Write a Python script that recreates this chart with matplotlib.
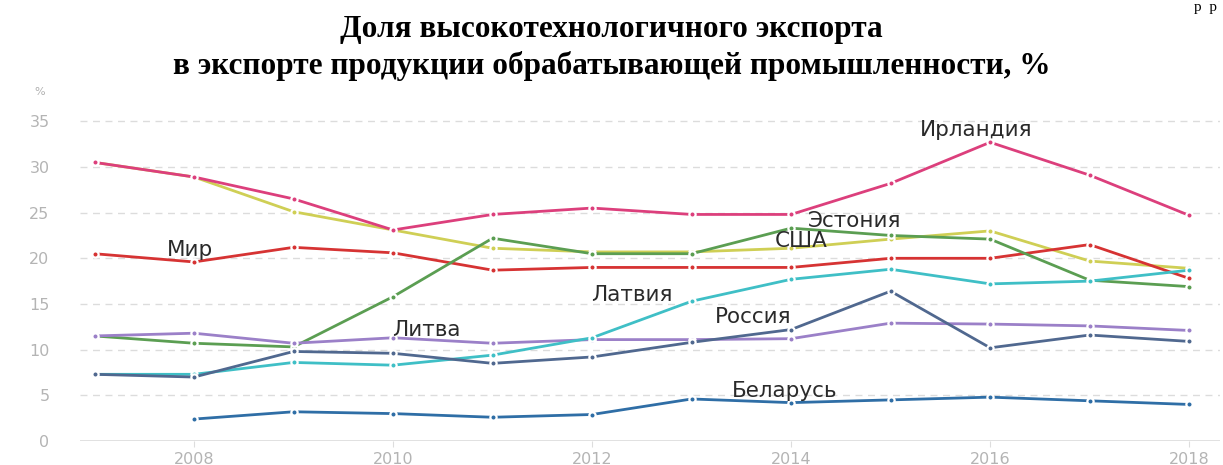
import matplotlib.pyplot as plt

# годы
years = list(range(2007, 2019))

# доля высокотехнологичного экспорта, %
ireland   = [30.5, 28.9, 26.5, 23.1, 24.8, 25.5, 24.8, 24.8, 28.2, 32.7, 29.1, 24.7]
usa       = [30.5, 28.9, 25.1, 23.1, 21.1, 20.7, 20.7, 21.1, 22.1, 23.0, 19.7, 18.9]
world     = [20.5, 19.6, 21.2, 20.6, 18.7, 19.0, 19.0, 19.0, 20.0, 20.0, 21.5, 17.8]
estonia   = [11.5, 10.7, 10.3, 15.8, 22.2, 20.5, 20.5, 23.3, 22.5, 22.1, 17.6, 16.9]
latvia    = [7.3, 7.3, 8.6, 8.3, 9.4, 11.3, 15.3, 17.7, 18.8, 17.2, 17.5, 18.7]
russia    = [7.3, 7.0, 9.8, 9.6, 8.5, 9.2, 10.8, 12.2, 16.4, 10.2, 11.6, 10.9]
lithuania = [11.5, 11.8, 10.7, 11.3, 10.7, 11.1, 11.1, 11.2, 12.9, 12.8, 12.6, 12.1]
belarus_years = list(range(2008, 2019))
belarus   = [2.4, 3.2, 3.0, 2.6, 2.9, 4.6, 4.2, 4.5, 4.8, 4.4, 4.0]

yticks = [0, 5, 10, 15, 20, 25, 30, 35]
xticks = [2008, 2010, 2012, 2014, 2016, 2018]

# подписи рядов и где они стоят (год, %)
labels = ['Ирландия', 'Эстония', 'США', 'Мир', 'Латвия', 'Россия', 'Литва', 'Беларусь']
label_x = [2015.86, 2014.64, 2014.10, 2007.96, 2012.40, 2013.62, 2010.33, 2013.93]
label_y = [34.0, 24.1, 21.9, 20.9, 16.0, 13.6, 12.1, 5.5]


def main():
    fig = plt.figure(figsize=(12.23, 4.65), dpi=100)
    ax = fig.add_axes([80 / 1223, 24 / 465, 1140 / 1223, 338 / 465])

    series = [
        (usa, years, '#cfcf55'),
        (ireland, years, '#dc3f7c'),
        (world, years, '#d63333'),
        (estonia, years, '#5b9e52'),
        (lithuania, years, '#9b80c8'),
        (latvia, years, '#3fbfc6'),
        (russia, years, '#50688f'),
        (belarus, belarus_years, '#2f6ea6'),
    ]
    for vals, xs, col in series:
        ax.plot(xs, vals, color=col, lw=2.0, marker='o', ms=4.5,
                markerfacecolor=col, markeredgecolor='white', markeredgewidth=1.6)

    ax.set_xlim(2006.854, 2018.31)
    ax.set_ylim(0, 37)

    # сетка
    for y in yticks[1:]:
        ax.axhline(y, color='#dcdcdc', lw=1, ls=(0, (5, 4)), zorder=0)
    ax.axhline(0, color='#dcdcdc', lw=1.2, zorder=0)

    for s in ax.spines.values():
        s.set_visible(False)
    ax.set_yticks(yticks)
    ax.set_xticks(xticks)
    ax.tick_params(axis='y', length=0, pad=22, labelsize=11.5, labelcolor='#b4b4b4')
    ax.tick_params(axis='x', length=4, width=0.8, color='#dddddd', pad=4,
                   labelsize=11.5, labelcolor='#b4b4b4')

    for t, lx, ly in zip(labels, label_x, label_y):
        ax.text(lx, ly, t, fontsize=15.5, color='#2a2a2a', family='DejaVu Sans',
                ha='center', va='center')

    fig.text(40 / 1223, 1 - 92 / 465, '%', fontsize=8, color='#b0b0b0',
             ha='center', va='center')

    ttl = dict(fontsize=22.5, fontweight='bold', family='Liberation Serif',
               ha='center', va='center')
    fig.text(0.5, 1 - 29 / 465, 'Доля высокотехнологичного экспорта', **ttl)
    fig.text(0.5, 1 - 66 / 465, 'в экспорте продукции обрабатывающей промышленности, %', **ttl)
    fig.text(1205 / 1223, 1 - 1 / 465, 'р  р', fontsize=11, family='Liberation Serif',
             ha='center', va='top')

    fig.savefig('out.png', dpi=100)


if __name__ == '__main__':
    main()
